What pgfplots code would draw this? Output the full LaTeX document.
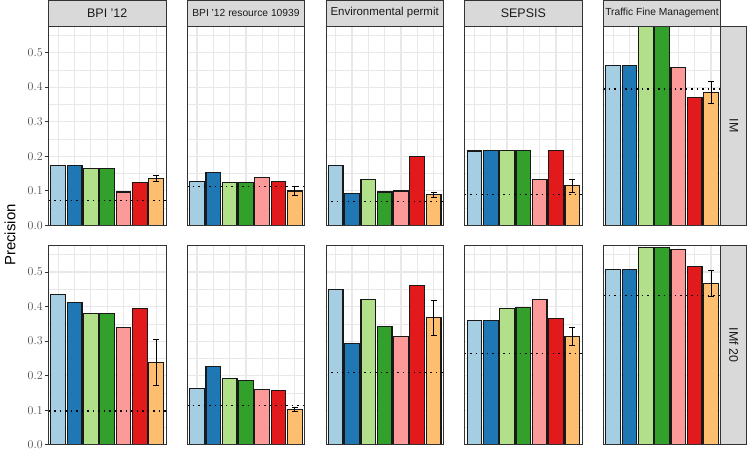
\documentclass[border=0pt]{standalone}
\usepackage{fontspec}
\setmainfont{Liberation Sans}
\usepackage{pgfplots}
\pgfplotsset{compat=1.18}

\definecolor{c1}{HTML}{A6CEE3}
\definecolor{c2}{HTML}{1F78B4}
\definecolor{c3}{HTML}{B2DF8A}
\definecolor{c4}{HTML}{33A02C}
\definecolor{c5}{HTML}{FB9A99}
\definecolor{c6}{HTML}{E31A1C}
\definecolor{c7}{HTML}{FDBF6F}
\definecolor{bordc}{HTML}{333333}
\definecolor{stripc}{HTML}{D9D9D9}
\definecolor{gridc}{HTML}{E8E8E8}
\definecolor{tickc}{HTML}{4D4D4D}
\definecolor{stript}{HTML}{1A1A1A}

\pgfplotsset{
  panel/.style={
    scale only axis, width=117.5bp, height=199.3bp,
    xmin=0.4, xmax=7.6, ymin=0, ymax=0.577,
    axis line style={draw=none},
    xtick={1,2,3,4,5,6,7}, xticklabels={}, xmajorticks=false,
    ytick={0,0.1,0.2,0.3,0.4,0.5},
    minor ytick={0.05,0.15,0.25,0.35,0.45,0.55},
    xmajorgrids, ymajorgrids, yminorgrids,
    major grid style={draw=gridc, line width=1.1bp},
    minor grid style={draw=gridc, line width=0.55bp},
    minor tick length=0pt,
    ytick pos=left,
    anchor=south west,
  },
  leftpanel/.style={
    panel,
    major tick length=3.6bp, tick align=outside,
    y tick style={draw=bordc, line width=0.8bp},
    yticklabel={\pgfmathprintnumber[fixed,fixed zerofill,precision=1]{\tick}},
    yticklabel style={font=\fontsize{12}{13}\selectfont, text=tickc, inner sep=1pt, xshift=-1bp},
  },
  otherpanel/.style={
    panel, yticklabels={}, ymajorticks=false,
  },
  pbar/.style={ybar, bar width=0.9, bar shift=0pt, draw=black!90, line width=1.1bp, fill=#1},
  dotline/.style={black, line width=1.5bp, dash pattern=on 1.5bp off 4bp},
}

\newcommand{\bars}[9]{%
  \addplot[pbar=c1] coordinates {(1,#1)};
  \addplot[pbar=c2] coordinates {(2,#2)};
  \addplot[pbar=c3] coordinates {(3,#3)};
  \addplot[pbar=c4] coordinates {(4,#4)};
  \addplot[pbar=c5] coordinates {(5,#5)};
  \addplot[pbar=c6] coordinates {(6,#6)};
  \addplot[pbar=c7, error bars/.cd, y dir=both, y explicit,
    error bar style={line width=1bp, black, solid},
    error mark options={rotate=90, mark size=3bp, line width=1bp, black, solid}]
    coordinates {(7,#7) +- (0,#8)};
  \addplot[dotline] coordinates {(0.4,#9) (7.6,#9)};
}

\begin{document}
\begin{tikzpicture}
\useasboundingbox (0,0) rectangle (747bp,454bp);

% ---- top row: IM ----
\begin{axis}[leftpanel, at={(48.5bp,228.7bp)}, name=a1]
\bars{0.174}{0.174}{0.164}{0.164}{0.0965}{0.124}{0.136}{0.008}{0.072}
\end{axis}
\begin{axis}[otherpanel, at={(187.2bp,228.7bp)}, name=a2]
\bars{0.126}{0.154}{0.123}{0.123}{0.138}{0.128}{0.0994}{0.0125}{0.112}
\end{axis}
\begin{axis}[otherpanel, at={(325.9bp,228.7bp)}, name=a3]
\bars{0.173}{0.0927}{0.133}{0.0965}{0.0994}{0.198}{0.088}{0.007}{0.0685}
\end{axis}
\begin{axis}[otherpanel, at={(464.6bp,228.7bp)}, name=a4]
\bars{0.215}{0.217}{0.216}{0.216}{0.133}{0.216}{0.114}{0.0177}{0.0898}
\end{axis}
\begin{axis}[otherpanel, at={(603.3bp,228.7bp)}, name=a5]
\bars{0.462}{0.462}{0.62}{0.62}{0.4575}{0.370}{0.384}{0.0315}{0.395}
\end{axis}

% ---- bottom row: IMf 20 ----
\begin{axis}[leftpanel, at={(48.5bp,9.3bp)}, name=b1]
\bars{0.434}{0.412}{0.380}{0.380}{0.340}{0.395}{0.238}{0.067}{0.098}
\end{axis}
\begin{axis}[otherpanel, at={(187.2bp,9.3bp)}, name=b2]
\bars{0.163}{0.226}{0.191}{0.186}{0.159}{0.157}{0.101}{0.0055}{0.113}
\end{axis}
\begin{axis}[otherpanel, at={(325.9bp,9.3bp)}, name=b3]
\bars{0.450}{0.293}{0.421}{0.343}{0.314}{0.461}{0.367}{0.0495}{0.209}
\end{axis}
\begin{axis}[otherpanel, at={(464.6bp,9.3bp)}, name=b4]
\bars{0.360}{0.360}{0.395}{0.396}{0.4195}{0.366}{0.314}{0.0265}{0.2645}
\end{axis}
\begin{axis}[otherpanel, at={(603.3bp,9.3bp)}, name=b5]
\bars{0.506}{0.506}{0.570}{0.570}{0.566}{0.517}{0.467}{0.037}{0.432}
\end{axis}

% strips (top)
\foreach \p/\lab/\fs in {a1/{BPI '12}/12.5, a2/{BPI '12 resource 10939}/10.3, a3/{Environmental permit}/11.5, a4/{SEPSIS}/12.5, a5/{Traffic Fine Management}/10.3}{
  \draw[fill=stripc, draw=bordc, line width=0.8bp] (\p.north west) rectangle ([yshift=26bp]\p.north east);
  \node[text=stript, font=\fontsize{\fs}{\fs}\selectfont, inner sep=0pt] at ([yshift=13bp]\p.north) {\lab};
}
% strips (right)
\foreach \p/\lab in {a5/IM, b5/{IMf 20}}{
  \draw[fill=stripc, draw=bordc, line width=0.8bp] (\p.south east) rectangle ([xshift=26bp]\p.north east);
  \node[text=stript, font=\fontsize{12.5}{12.5}\selectfont, rotate=-90, inner sep=0pt] at ([xshift=13bp]\p.east) {\lab};
}
% panel borders
\foreach \p in {a1,a2,a3,a4,a5,b1,b2,b3,b4,b5}{
  \draw[bordc, line width=0.8bp] (\p.south west) rectangle (\p.north east);
}
% y label
\node[rotate=90, font=\fontsize{15}{15}\selectfont, inner sep=0pt] at (10bp,219bp) {Precision};
\end{tikzpicture}
\end{document}
